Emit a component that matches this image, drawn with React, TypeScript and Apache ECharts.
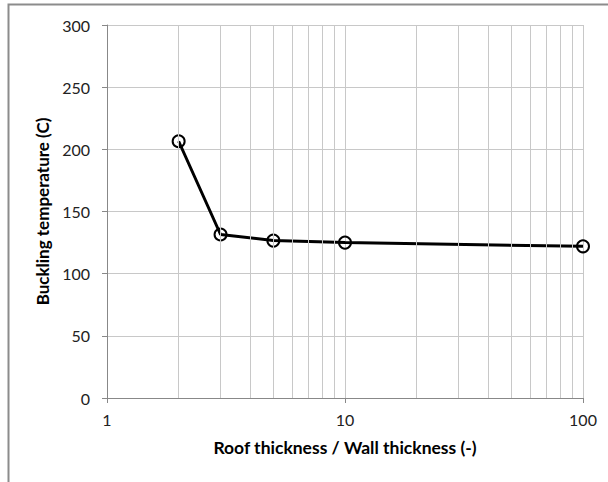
import React, { useEffect, useRef } from "react";
import * as echarts from "echarts";

const ratios = [2, 3, 5, 10, 100];
const bucklingTemps = [206.5, 131.5, 126.6, 125, 122];
const minorGridValues = [2, 3, 4, 5, 6, 7, 8, 9, 20, 30, 40, 50, 60, 70, 80, 90];
const xAxisName = "Roof thickness / Wall thickness (-)";
const yAxisName = "Buckling temperature (C)";

export default function App() {
  const ref = useRef<HTMLDivElement>(null);
  useEffect(() => {
    if (!ref.current) return;
    const chart = echarts.init(ref.current, null, { renderer: "svg" });
    const font = "Lato, 'Open Sans', sans-serif";
    chart.setOption({
      animation: false,
      backgroundColor: "#ffffff",
      textStyle: { fontFamily: font },
      graphic: [
        {
          type: "rect",
          shape: { x: 8.5, y: 4.5, width: 640, height: 520 },
          style: { fill: "none", stroke: "#8c8c8c", lineWidth: 2 },
          silent: true,
        },
      ],
      grid: { left: 107, right: 25, top: 25, bottom: 84, containLabel: false },
      xAxis: {
        type: "log",
        logBase: 10,
        min: 1,
        max: 100,
        name: xAxisName,
        nameLocation: "middle",
        nameGap: 40,
        nameTextStyle: { fontFamily: font, fontSize: 17.5, fontWeight: "bold", color: "#000" },
        axisLine: { show: true, lineStyle: { color: "#888888", width: 1 } },
        axisTick: { show: true, length: 5, lineStyle: { color: "#888888" } },
        axisLabel: { fontFamily: font, fontSize: 16, color: "#222", margin: 13 },
        splitLine: { show: true, lineStyle: { color: "#c8c8c8", width: 1 } },
      },
      yAxis: {
        type: "value",
        min: 0,
        max: 300,
        interval: 50,
        name: yAxisName,
        nameLocation: "middle",
        nameGap: 54,
        nameTextStyle: { fontFamily: font, fontSize: 17, fontWeight: "bold", color: "#000" },
        axisLine: { show: true, lineStyle: { color: "#888888", width: 1 } },
        axisTick: { show: true, length: 5, lineStyle: { color: "#888888" } },
        axisLabel: { fontFamily: font, fontSize: 16, color: "#222", margin: 17 },
        splitLine: { show: true, lineStyle: { color: "#c8c8c8", width: 1 } },
      },
      series: [
        {
          type: "line",
          name: "minor",
          data: [],
          z: 1,
          silent: true,
          markLine: {
            silent: true,
            symbol: ["none", "none"],
            label: { show: false },
            lineStyle: { color: "#c8c8c8", width: 1, type: "solid" },
            data: minorGridValues.map((v) => ({ xAxis: v })),
          },
        },
        {
          type: "line",
          name: "Buckling",
          z: 3,
          data: ratios.map((r, i) => [r, bucklingTemps[i]]),
          lineStyle: { color: "#000", width: 3 },
          symbol: "circle",
          symbolSize: 12,
          itemStyle: { color: "rgba(255,255,255,0)", borderColor: "#000", borderWidth: 2 },
        },
      ],
    });
    return () => chart.dispose();
  }, []);
  return (
    <div
      ref={ref}
      style={{ position: "absolute", left: 0, top: 0, width: 608, height: 482 }}
    />
  );
}
